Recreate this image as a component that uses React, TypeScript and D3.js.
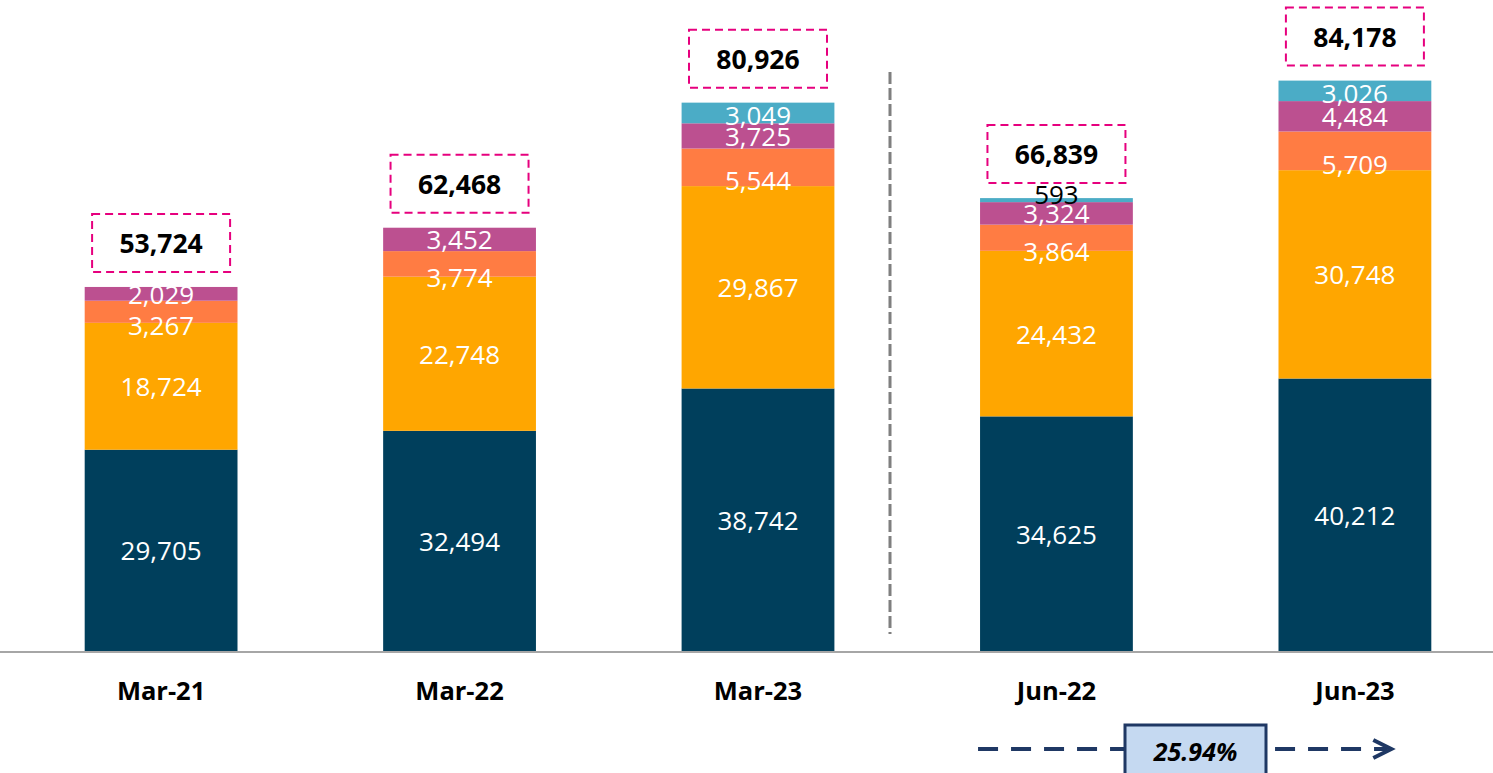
import React from "react";
import * as d3 from "d3";

const categories = ["Mar-21", "Mar-22", "Mar-23", "Jun-22", "Jun-23"];
const seriesNames = ["s1", "s2", "s3", "s4", "s5"];
const s1 = [29705, 32494, 38742, 34625, 40212];
const s2 = [18724, 22748, 29867, 24432, 30748];
const s3 = [3267, 3774, 5544, 3864, 5709];
const s4 = [2029, 3452, 3725, 3324, 4484];
const s5 = [0, 0, 3049, 593, 3026];
const totals = [53724, 62468, 80926, 66839, 84178];
const growthLabel = "25.94%";

const colors = ["#003F5C", "#FFA600", "#FF7C43", "#BC5090", "#4BACC6"];
// extra downward nudge of each series' labels (px)
const labelNudge = [0, 0, 13, 0, 2];

const W = 1493;
const H = 773;
const font = "'Open Sans', 'Noto Sans', sans-serif";

const App = () => {
  const rows = categories.map((c, i) => ({
    cat: c,
    s1: s1[i],
    s2: s2[i],
    s3: s3[i],
    s4: s4[i],
    s5: s5[i],
  }));
  const stacked = d3.stack().keys(seriesNames)(rows as any);

  const x = d3
    .scaleBand()
    .domain(categories)
    .range([25, 1491])
    .paddingInner(0.488)
    .paddingOuter(0.2);
  const y = d3.scaleLinear().domain([0, 90000]).range([651, 651 - 90000 * 0.006776]);
  const bw = x.bandwidth();
  const fmt = d3.format(",");

  const sepX = 890;
  const arrowY = 749;
  const arrowX0 = (x("Jun-22") as number) - 2;
  const arrowX1 = (x("Jun-23") as number) + bw - 40;
  const boxX0 = 1125;
  const boxX1 = 1266;

  return (
    <div>
      <style>{`body{margin:0}`}</style>
      <svg width={W} height={H} style={{ display: "block" }}>
        {stacked.map((layer, si) =>
          layer.map((d, ci) => {
            const v = d[1] - d[0];
            if (v <= 0) return null;
            return (
              <rect
                key={`r${si}-${ci}`}
                x={x(categories[ci])}
                y={y(d[1])}
                width={bw}
                height={y(d[0]) - y(d[1])}
                fill={colors[si]}
              />
            );
          })
        )}
        {stacked.map((layer, si) =>
          layer.map((d, ci) => {
            const v = d[1] - d[0];
            if (v <= 0) return null;
            const cx = (x(categories[ci]) as number) + bw / 2;
            const small = y(d[0]) - y(d[1]) < 8;
            const cy = small ? y(d[1]) - 4 : (y(d[0]) + y(d[1])) / 2 + labelNudge[si];
            return (
              <text
                key={`t${si}-${ci}`}
                x={cx}
                y={cy}
                textAnchor="middle"
                dominantBaseline="central"
                fontFamily={font}
                fontSize={26}
                fill={small ? "#000" : "#fff"}
              >
                {fmt(v)}
              </text>
            );
          })
        )}
        <line x1={0} x2={W} y1={y(0) + 1} y2={y(0) + 1} stroke="#A6A6A6" strokeWidth={2} />
        <line
          x1={sepX}
          x2={sepX}
          y1={72}
          y2={634}
          stroke="#7F7F7F"
          strokeWidth={3}
          strokeDasharray="12 4"
        />
        {categories.map((c, i) => {
          const cx = (x(c) as number) + bw / 2;
          const top = y(totals[i]) - 15;
          return (
            <g key={`tot${i}`}>
              <rect
                x={cx - 69}
                y={top - 58}
                width={138}
                height={58}
                fill="#fff"
                stroke="#E6007E"
                strokeWidth={2}
                strokeDasharray="8 5"
              />
              <text
                x={cx}
                y={top - 29}
                textAnchor="middle"
                dominantBaseline="central"
                fontFamily={font}
                fontWeight="bold"
                fontSize={26.5}
                fill="#000"
              >
                {fmt(totals[i])}
              </text>
              <text
                x={cx}
                y={690}
                textAnchor="middle"
                dominantBaseline="central"
                fontFamily={font}
                fontWeight="bold"
                fontSize={25.5}
                fill="#000"
              >
                {c}
              </text>
            </g>
          );
        })}
        <line
          x1={arrowX0}
          x2={arrowX1 - 4}
          y1={arrowY}
          y2={arrowY}
          stroke="#1F3864"
          strokeWidth={4}
          strokeDasharray="20 13"
        />
        <path
          d={`M${arrowX1 - 18},${arrowY - 9} L${arrowX1},${arrowY} L${arrowX1 - 18},${arrowY + 9}`}
          fill="none"
          stroke="#1F3864"
          strokeWidth={4}
        />
        <rect
          x={boxX0}
          y={725}
          width={boxX1 - boxX0}
          height={60}
          fill="#C5D9F1"
          stroke="#1F3864"
          strokeWidth={3}
        />
        <text
          x={(boxX0 + boxX1) / 2}
          y={arrowY + 2}
          textAnchor="middle"
          dominantBaseline="central"
          fontFamily={font}
          fontWeight="bold"
          fontStyle="italic"
          fontSize={25}
          fill="#000"
        >
          {growthLabel}
        </text>
      </svg>
    </div>
  );
};

export default App;
